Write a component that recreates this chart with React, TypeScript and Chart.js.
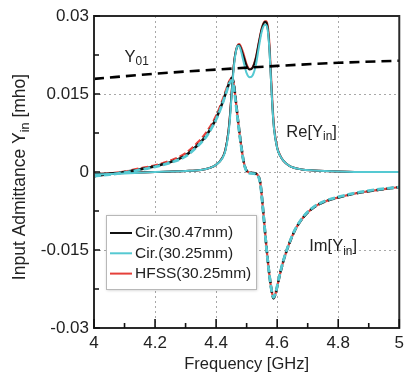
import { useEffect, useRef } from "react";
import { Chart, registerables } from "chart.js";

Chart.register(...registerables);

// ---------- data ----------
const freqY01 = [4.0, 4.2, 4.4, 4.6, 4.8, 5.0];
const y01 = [0.0179, 0.0189, 0.0197, 0.0204, 0.021, 0.0214];

const freqRe = [4.0, 4.1, 4.2, 4.3, 4.35, 4.38, 4.4, 4.42, 4.43, 4.44, 4.445, 4.45, 4.455, 4.46, 4.465, 4.47, 4.475, 4.48, 4.49, 4.5, 4.51, 4.52, 4.53, 4.54, 4.55, 4.56, 4.565, 4.57, 4.575, 4.58, 4.585, 4.59, 4.6, 4.61, 4.62, 4.64, 4.68, 4.72, 4.8, 4.9, 5.0];
const reCir3047 = [-0.0004, -0.0002, 0.0, 0.0002, 0.0004, 0.0008, 0.0014, 0.0027, 0.0042, 0.0076, 0.0106, 0.0146, 0.0186, 0.0216, 0.0233, 0.0242, 0.0244, 0.0239, 0.0222, 0.0204, 0.0197, 0.0201, 0.0218, 0.0248, 0.0276, 0.0289, 0.0287, 0.0272, 0.0235, 0.0175, 0.012, 0.0082, 0.0046, 0.0031, 0.0022, 0.0012, 0.0005, 0.0003, 0.0001, 0.0, 0.0];
const reCir3025 = [-0.0005, -0.0003, 0.0, 0.0002, 0.0004, 0.0008, 0.0014, 0.0026, 0.004, 0.0072, 0.01, 0.014, 0.018, 0.0212, 0.0232, 0.0242, 0.0243, 0.0236, 0.0212, 0.019, 0.0182, 0.0186, 0.0205, 0.024, 0.0271, 0.0283, 0.0282, 0.0268, 0.0232, 0.0174, 0.012, 0.0082, 0.0046, 0.0031, 0.0022, 0.0012, 0.0005, 0.0003, 0.0001, 0.0, 0.0];
const reHfss3025 = [-0.0004, -0.0002, 0.0, 0.0002, 0.0004, 0.0008, 0.0014, 0.0027, 0.0042, 0.0076, 0.0106, 0.0146, 0.0186, 0.0216, 0.0234, 0.0243, 0.0246, 0.0243, 0.0227, 0.0207, 0.0198, 0.0202, 0.022, 0.025, 0.0278, 0.029, 0.029, 0.0278, 0.0244, 0.0186, 0.013, 0.0088, 0.0048, 0.0032, 0.0022, 0.0012, 0.0005, 0.0003, 0.0001, 0.0, 0.0];

const freqIm = [4.0, 4.05, 4.1, 4.15, 4.2, 4.25, 4.3, 4.34, 4.37, 4.4, 4.42, 4.435, 4.445, 4.452, 4.458, 4.465, 4.472, 4.48, 4.49, 4.497, 4.505, 4.52, 4.535, 4.545, 4.555, 4.565, 4.575, 4.583, 4.588, 4.595, 4.605, 4.62, 4.64, 4.66, 4.69, 4.72, 4.76, 4.8, 4.85, 4.9, 4.95, 5.0];
const imCir3047 = [-0.0008, -0.0004, 0.0, 0.0005, 0.0011, 0.0019, 0.0032, 0.0052, 0.0072, 0.0103, 0.0132, 0.0158, 0.0174, 0.0181, 0.0169, 0.0135, 0.0098, 0.006, 0.0021, 0.0006, 0.0, -0.0002, -0.0005, -0.0022, -0.008, -0.0145, -0.02, -0.0232, -0.0243, -0.0233, -0.0207, -0.0172, -0.0137, -0.011, -0.0084, -0.0068, -0.0056, -0.0049, -0.0042, -0.0037, -0.0033, -0.0029];
const imCir3025 = [-0.0008, -0.0005, -0.0001, 0.0004, 0.001, 0.0018, 0.003, 0.005, 0.007, 0.0101, 0.013, 0.0156, 0.0172, 0.0176, 0.0163, 0.013, 0.0095, 0.0058, 0.002, 0.0005, -0.0001, -0.0003, -0.0006, -0.0024, -0.0082, -0.0147, -0.0201, -0.0232, -0.0241, -0.0232, -0.0206, -0.0171, -0.0136, -0.0109, -0.0083, -0.0067, -0.0055, -0.0048, -0.0041, -0.0036, -0.0032, -0.0029];
const imHfss3025 = [-0.0007, -0.0003, 0.0001, 0.0007, 0.0013, 0.0022, 0.0036, 0.0057, 0.0078, 0.0108, 0.0137, 0.0162, 0.0177, 0.018, 0.0168, 0.0135, 0.0098, 0.006, 0.0021, 0.0006, 0.0, -0.0002, -0.0005, -0.0022, -0.008, -0.0145, -0.02, -0.0232, -0.0242, -0.0233, -0.0207, -0.0172, -0.0137, -0.011, -0.0084, -0.0068, -0.0056, -0.0049, -0.0042, -0.0037, -0.0033, -0.0029];

const xTickValues = [4, 4.2, 4.4, 4.6, 4.8, 5];
const xTickLabels = ["4", "4.2", "4.4", "4.6", "4.8", "5"];
const xMinorTicks = [4.1, 4.3, 4.5, 4.7, 4.9];
const yTickValues = [-0.03, -0.015, 0, 0.015, 0.03];
const yTickLabels = ["-0.03", "-0.015", "0", "0.015", "0.03"];
const yMinorTicks = [-0.0225, -0.0075, 0.0075, 0.0225];
const legendLabels = ["Cir.(30.47mm)", "Cir.(30.25mm)", "HFSS(30.25mm)"];

const BLACK = "#111111";
const CYAN = "#55c9d2";
const RED = "#e5403a";
const FONT = "Arial, 'Liberation Sans', sans-serif";

type Seg = { t: string; sub?: boolean };

function drawRich(ctx: CanvasRenderingContext2D, x: number, y: number, segs: Seg[], size: number, align: "left" | "center") {
  const subSize = size * 0.72;
  let total = 0;
  const widths = segs.map((s) => {
    ctx.font = `${s.sub ? subSize : size}px ${FONT}`;
    const w = ctx.measureText(s.t).width;
    total += w;
    return w;
  });
  let cx = align === "center" ? x - total / 2 : x;
  ctx.textBaseline = "middle";
  ctx.textAlign = "left";
  segs.forEach((s, i) => {
    ctx.font = `${s.sub ? subSize : size}px ${FONT}`;
    ctx.fillText(s.t, cx, s.sub ? y + size * 0.3 : y);
    cx += widths[i];
  });
}

const decor = {
  id: "decor",
  afterDatasetsDraw(chart: any) {
    const { ctx, chartArea: a, scales } = chart;
    const x = scales.x;
    const y = scales.y;
    ctx.save();
    // frame
    ctx.strokeStyle = "#2a2a2a";
    ctx.lineWidth = 2;
    ctx.strokeRect(a.left, a.top, a.right - a.left, a.bottom - a.top);
    // inner ticks
    ctx.strokeStyle = "#111";
    ctx.lineWidth = 1.6;
    ctx.beginPath();
    xTickValues.forEach((v) => {
      const px = x.getPixelForValue(v);
      ctx.moveTo(px, a.bottom);
      ctx.lineTo(px, a.bottom - 9);
    });
    xMinorTicks.forEach((v) => {
      const px = x.getPixelForValue(v);
      ctx.moveTo(px, a.bottom);
      ctx.lineTo(px, a.bottom - 5);
    });
    yTickValues.forEach((v) => {
      const py = y.getPixelForValue(v);
      ctx.moveTo(a.left, py);
      ctx.lineTo(a.left + 6, py);
    });
    yMinorTicks.forEach((v) => {
      const py = y.getPixelForValue(v);
      ctx.moveTo(a.left, py);
      ctx.lineTo(a.left + 5, py);
    });
    ctx.stroke();

    // legend
    const lx = a.left + 12;
    const ly = a.top + 199;
    const lw = 150;
    const lh = 74;
    ctx.save();
    ctx.shadowColor = "rgba(0,0,0,0.25)";
    ctx.shadowBlur = 3;
    ctx.shadowOffsetX = 1;
    ctx.shadowOffsetY = 1;
    ctx.fillStyle = "#ffffff";
    ctx.fillRect(lx, ly, lw, lh);
    ctx.restore();
    ctx.strokeStyle = "#b8b8b8";
    ctx.lineWidth = 1;
    ctx.strokeRect(lx + 0.5, ly + 0.5, lw, lh);
    const colors = [BLACK, CYAN, RED];
    legendLabels.forEach((lab, i) => {
      const yy = ly + 18 + i * 20.3;
      ctx.strokeStyle = colors[i];
      ctx.lineWidth = 2;
      ctx.beginPath();
      ctx.moveTo(lx + 4, yy);
      ctx.lineTo(lx + 26, yy);
      ctx.stroke();
      ctx.fillStyle = "#222";
      ctx.font = `15.5px ${FONT}`;
      ctx.textBaseline = "middle";
      ctx.textAlign = "left";
      ctx.fillText(lab, lx + 29, yy);
    });

    // annotations
    ctx.fillStyle = "#222";
    drawRich(ctx, x.getPixelForValue(4.1), y.getPixelForValue(0.0221), [{ t: "Y" }, { t: "01", sub: true }], 16.5, "left");
    drawRich(ctx, x.getPixelForValue(4.63), y.getPixelForValue(0.0077), [{ t: "Re[Y" }, { t: "in", sub: true }, { t: "]" }], 16.5, "left");
    drawRich(ctx, x.getPixelForValue(4.705), y.getPixelForValue(-0.0143), [{ t: "Im[Y" }, { t: "in", sub: true }, { t: "]" }], 16.5, "left");

    // y axis title
    ctx.save();
    ctx.translate(20, (a.top + a.bottom) / 2 + 5);
    ctx.rotate(-Math.PI / 2);
    drawRich(ctx, 0, 0, [{ t: "Input Admittance Y" }, { t: "in", sub: true }, { t: " [mho]" }], 17.5, "center");
    ctx.restore();

    ctx.restore();
  },
};

function pts(xs: number[], ys: number[]) {
  return xs.map((v, i) => ({ x: v, y: ys[i] }));
}

export default function App() {
  const ref = useRef<HTMLCanvasElement>(null);
  useEffect(() => {
    document.body.style.margin = "0";
    const canvas = ref.current!;
    const base = { pointRadius: 0, fill: false, cubicInterpolationMode: "monotone" as const };
    const chart = new Chart(canvas, {
      type: "line",
      data: {
        datasets: [
          { ...base, label: "Y01", data: pts(freqY01, y01), borderColor: "#000", borderWidth: 2.6, borderDash: [10, 6] },
          { ...base, label: legendLabels[1] + " Re", data: pts(freqRe, reCir3025), borderColor: CYAN, borderWidth: 2 },
          { ...base, label: legendLabels[1] + " Im", data: pts(freqIm, imCir3025), borderColor: CYAN, borderWidth: 2.8, borderDash: [7, 3] },
          { ...base, label: legendLabels[0] + " Re", data: pts(freqRe, reCir3047), borderColor: BLACK, borderWidth: 2 },
          { ...base, label: legendLabels[0] + " Im", data: pts(freqIm, imCir3047), borderColor: BLACK, borderWidth: 2.6, borderDash: [7, 3], borderDashOffset: 5 },
          { ...base, label: legendLabels[2] + " Re", data: pts(freqRe, reHfss3025), borderColor: RED, borderWidth: 2 },
          { ...base, label: legendLabels[2] + " Im", data: pts(freqIm, imHfss3025), borderColor: RED, borderWidth: 2.2, borderDash: [7, 3], borderDashOffset: 2 },
        ],
      },
      options: {
        animation: false,
        responsive: false,
        events: [],
        layout: { padding: { top: 16, right: 4, left: 0, bottom: 0 } },
        plugins: { legend: { display: false }, tooltip: { enabled: false } },
        scales: {
          x: {
            type: "linear",
            min: 4,
            max: 5,
            afterFit: (s: any) => {
              s.height = 46;
            },
            afterBuildTicks: (s: any) => {
              s.ticks = xTickValues.map((v) => ({ value: v }));
            },
            ticks: {
              autoSkip: false,
              maxRotation: 0,
              padding: 5,
              color: "#222",
              font: { family: FONT, size: 17 },
              callback: (v: any) => xTickLabels[xTickValues.indexOf(Number(v))] ?? "",
            },
            grid: { color: "#a8a8a8", lineWidth: 1, drawTicks: false },
            border: { display: false, dash: [2, 3] },
            title: { display: true, text: "Frequency [GHz]", color: "#222", font: { family: FONT, size: 16.5 }, padding: { top: 0, bottom: 0 } },
          },
          y: {
            type: "linear",
            min: -0.03,
            max: 0.03,
            afterFit: (s: any) => {
              s.width = 94;
            },
            afterBuildTicks: (s: any) => {
              s.ticks = yTickValues.map((v) => ({ value: v }));
            },
            ticks: {
              autoSkip: false,
              padding: 5,
              color: "#222",
              font: { family: FONT, size: 17 },
              callback: (v: any) => {
                const i = yTickValues.findIndex((t) => Math.abs(t - Number(v)) < 1e-9);
                return i >= 0 ? yTickLabels[i] : "";
              },
            },
            grid: { color: "#a8a8a8", lineWidth: 1, drawTicks: false },
            border: { display: false, dash: [2, 3] },
          },
        },
      },
      plugins: [decor],
    });
    return () => chart.destroy();
  }, []);
  return (
    <div style={{ width: 409, height: 374 }}>
      <canvas ref={ref} width={409} height={374} />
    </div>
  );
}
